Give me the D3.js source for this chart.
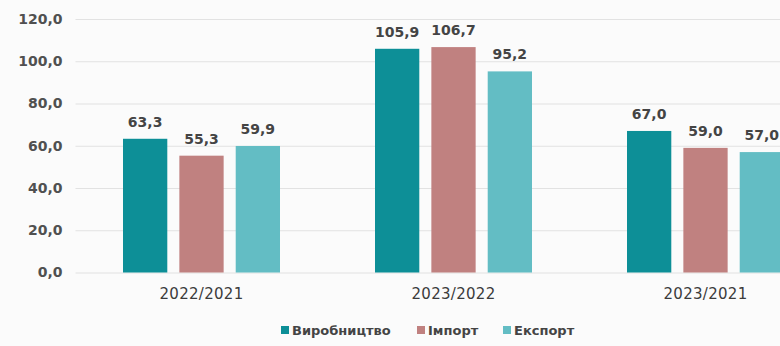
<!DOCTYPE html>
<html>
<head>
<meta charset="utf-8">
<script src="https://cdn.jsdelivr.net/npm/d3@7/dist/d3.min.js"></script>
<style>
  html, body { margin: 0; padding: 0; background: #fbfbfb; overflow: hidden; }
  svg { display: block; font-family: "DejaVu Sans", Verdana, sans-serif; }
</style>
</head>
<body>
<svg id="chart" width="780" height="346"></svg>
<script>
// Index values (%) by period
const periods = ["2022/2021", "2023/2022", "2023/2021"];
const seriesNames = ["Виробництво", "Імпорт", "Експорт"];
const production = [63.3, 105.9, 67.0];
const imports = [55.3, 106.7, 59.0];
const exports = [59.9, 95.2, 57.0];
const yTicks = [0, 20, 40, 60, 80, 100, 120];
const colors = ["#0d8f97", "#c08180", "#63bdc4"];

const seriesValues = [production, imports, exports];
const rows = periods.map((p, i) => ({
  period: p,
  values: seriesNames.map((s, k) => ({ series: s, k, value: seriesValues[k][i] }))
}));

const svg = d3.select("#chart");
const fmt = v => v.toFixed(1).replace(".", ",");

// plot area runs past the right edge of the view
const plotLeft = 75.5, plotRight = 831.5, plotTop = 19, plotBottom = 272.5;

const x0 = d3.scaleBand().domain(periods).range([plotLeft, plotRight])
  .paddingInner(0.377).paddingOuter(0.1885);
const x1 = d3.scaleBand().domain(seriesNames).range([0, x0.bandwidth()])
  .paddingInner(0.214).paddingOuter(0);
const y = d3.scaleLinear().domain([0, 120]).range([plotBottom, plotTop]);

// gridlines
const yAxis = d3.axisLeft(y).tickValues(yTicks).tickSize(-(plotRight - plotLeft)).tickFormat(fmt).tickPadding(13);
const gy = svg.append("g").attr("transform", `translate(${plotLeft},0)`).call(yAxis);
gy.select(".domain").remove();
gy.selectAll(".tick line").attr("stroke", "#e2e2e2").attr("stroke-width", 1.2);
gy.selectAll(".tick text").attr("fill", "#505050").attr("font-size", 14).attr("font-weight", "bold")
  .attr("font-family", "DejaVu Sans");

// bars
const groups = svg.append("g").selectAll("g").data(rows).join("g")
  .attr("transform", d => `translate(${x0(d.period)},0)`);

groups.selectAll("rect").data(d => d.values).join("rect")
  .attr("x", d => x1(d.series))
  .attr("width", x1.bandwidth())
  .attr("y", d => y(d.value))
  .attr("height", d => y(0) - y(d.value))
  .attr("fill", d => colors[d.k]);

groups.selectAll("text.val").data(d => d.values).join("text")
  .attr("class", "val")
  .attr("x", d => x1(d.series) + x1.bandwidth() / 2)
  .attr("y", d => y(d.value) - 12)
  .attr("text-anchor", "middle")
  .attr("font-size", 14)
  .attr("font-weight", "bold")
  .attr("fill", "#444")
  .text(d => fmt(d.value));

// category axis labels
const xAxis = d3.axisBottom(x0).tickSize(0).tickPadding(16);
const gx = svg.append("g").attr("transform", `translate(0,${plotBottom})`).call(xAxis);
gx.select(".domain").remove();
gx.selectAll(".tick text").attr("fill", "#3c3c3c").attr("font-size", 15)
  .attr("font-family", "DejaVu Sans").attr("letter-spacing", 0.3);

// legend
const legendX = [281, 417, 503];
const legend = svg.append("g").attr("transform", "translate(0,330)");
const li = legend.selectAll("g").data(seriesNames).join("g")
  .attr("transform", (d, i) => `translate(${legendX[i]},0)`);
li.append("rect").attr("x", 0).attr("y", -4).attr("width", 8).attr("height", 8)
  .attr("fill", (d, i) => colors[i]);
li.append("text").attr("x", 11).attr("y", 0).attr("dy", "0.35em")
  .attr("font-size", 13).attr("font-weight", "bold").attr("fill", "#444")
  .text(d => d);
</script>
</body>
</html>
